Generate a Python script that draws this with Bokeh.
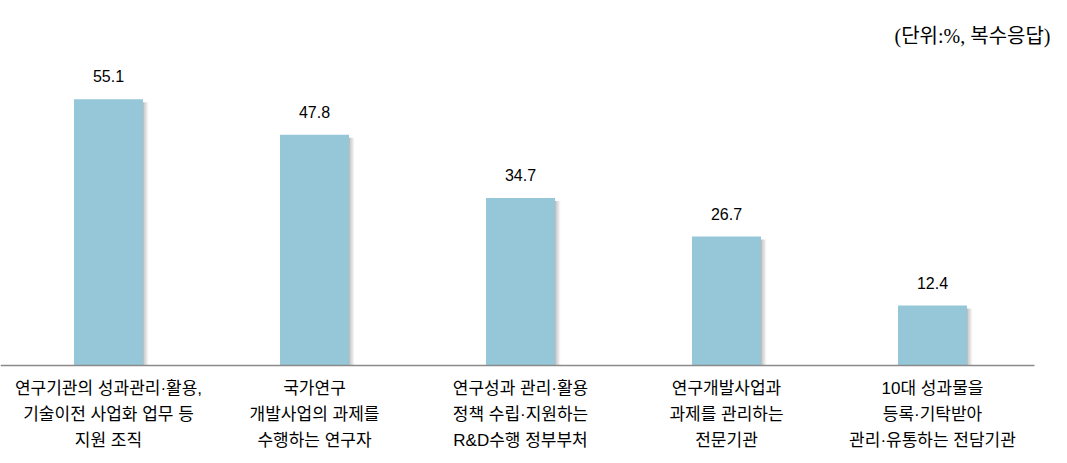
from bokeh.plotting import figure
from bokeh.models import Range1d, Label
from bokeh.embed import file_html
from bokeh.resources import INLINE

categories = [
    "연구기관의 성과관리·활용,\n기술이전 사업화 업무 등\n지원 조직",
    "국가연구\n개발사업의 과제를\n수행하는 연구자",
    "연구성과 관리·활용\n정책 수립·지원하는\nR&D수행 정부부처",
    "연구개발사업과\n과제를 관리하는\n전문기관",
    "10대 성과물을\n등록·기탁받아\n관리·유통하는 전담기관",
]
values = [55.1, 47.8, 34.7, 26.7, 12.4]
unit_note = "(단위:%,  복수응답)"

W, H = 1067, 463
PXU = 206.0           # pixels per category
PYU = 4.83            # pixels per percent
BASE = 365            # baseline pixel row
LEFT = 5

p = figure(width=W, height=H, output_backend="svg", toolbar_location=None,
           x_range=Range1d(-LEFT / PXU, (W - LEFT) / PXU),
           y_range=Range1d(-(H - BASE) / PYU, BASE / PYU),
           min_border=0, min_border_left=0, min_border_right=0,
           min_border_top=0, min_border_bottom=0)
p.axis.visible = False
p.grid.visible = False
p.outline_line_color = None
p.background_fill_color = "white"
p.border_fill_color = "white"

xs = [i + 0.5 for i in range(len(values))]
bw = 69 / PXU

# soft shadow on the right of each bar
for k, a in enumerate([0.45, 0.3, 0.18, 0.08]):
    off = (bw / 2) + (k * 1.3) / PXU
    p.quad(left=[x + off for x in xs], right=[x + off + 1.3 / PXU for x in xs],
           bottom=0, top=[v - 3 / PYU for v in values],
           fill_color="#6e6e6e", fill_alpha=a, line_color=None)

p.vbar(x=xs, width=bw, top=values, bottom=0, fill_color="#96C7D9", line_color=None)

# baseline
p.segment(x0=[-LEFT / PXU], x1=[(1034 - LEFT) / PXU], y0=[0], y1=[0],
          line_color="#8a8a8a", line_width=1.6)

LBL_FONT = "'Liberation Sans', 'Noto Sans CJK KR'"

# value labels
p.text(x=xs, y=values, text=[f"{v:.1f}" for v in values], text_align="center",
       text_baseline="bottom", y_offset=-17, text_font_size="16px",
       text_font={"value": "Liberation Sans"}, text_color="#000000")

# category labels (one line at a time)
for x, cat in zip(xs, categories):
    for j, line in enumerate(cat.split("\n")):
        p.add_layout(Label(x=x, y=0, y_offset=-(23 + 26 * j), text=line,
                           text_align="center", text_baseline="middle",
                           text_font=LBL_FONT, text_font_size="17px",
                           text_color="#000000"))

p.add_layout(Label(x=1055, y=H - 35, x_units="screen", y_units="screen",
                   text=unit_note, text_align="right", text_baseline="middle",
                   text_font="'Liberation Serif', 'Noto Sans CJK KR'",
                   text_font_size="20px", text_color="#000000"))

open("out.html", "w").write(file_html(p, INLINE))
